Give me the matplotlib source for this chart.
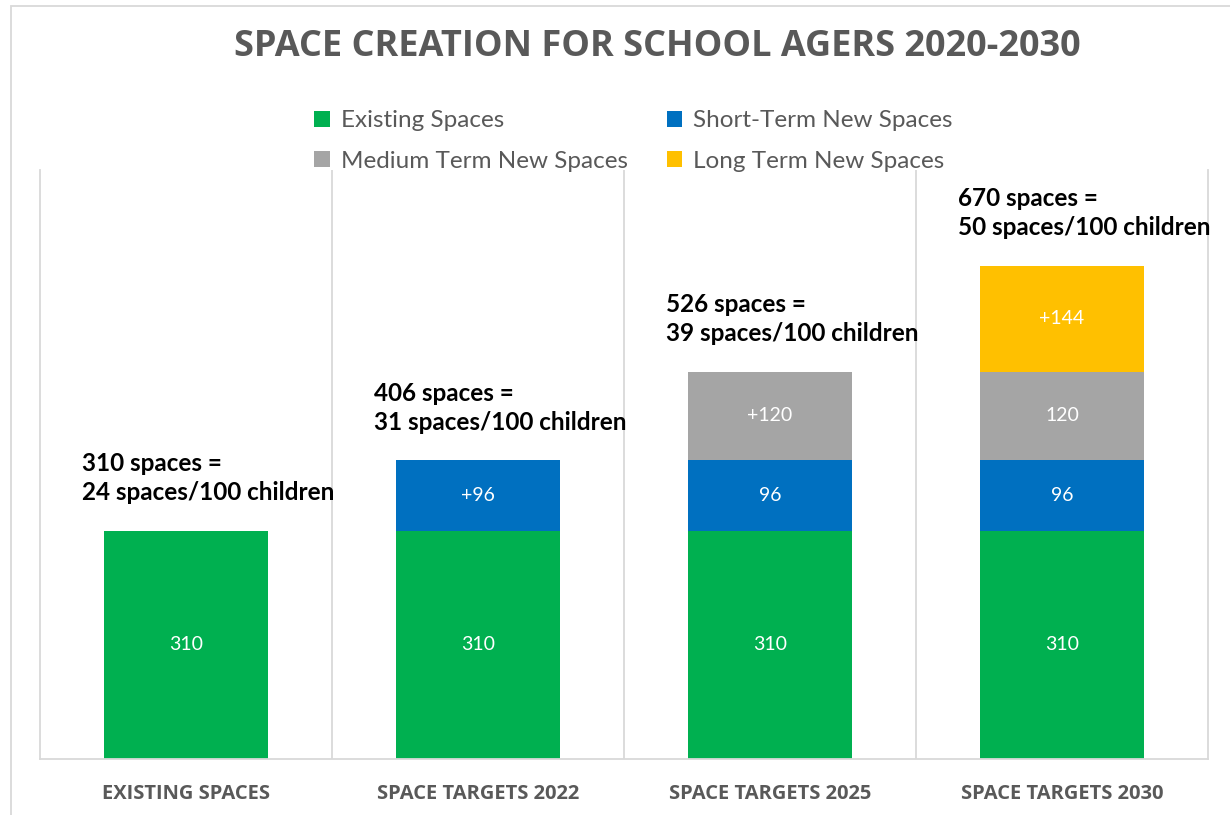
import matplotlib.pyplot as plt
from matplotlib.patches import Rectangle, Patch
import numpy as np

# Categories and stacked segment values
categories = ['EXISTING SPACES', 'SPACE TARGETS 2022', 'SPACE TARGETS 2025', 'SPACE TARGETS 2030']
existing = [310, 310, 310, 310]
short_term = [0, 96, 96, 96]
medium_term = [0, 0, 120, 120]
long_term = [0, 0, 0, 144]

short_labels = ['', '+96', '96', '96']
medium_labels = ['', '', '+120', '120']
long_labels = ['', '', '', '+144']
totals = [310, 406, 526, 670]
per_100 = [24, 31, 39, 50]

series_names = ['Existing Spaces', 'Short-Term New Spaces',
                'Medium Term New Spaces', 'Long Term New Spaces']
colors = ['#00B050', '#0070C0', '#A5A5A5', '#FFC000']
grid_col = '#D9D9D9'
text_col = '#595959'

plt.rcParams['font.family'] = ['Open Sans', 'DejaVu Sans']

fig = plt.figure(figsize=(12.3, 8.15), dpi=100)
ax = fig.add_axes([40 / 1230, 56 / 815, 1168 / 1230, 589 / 815])

x = np.arange(len(categories))
width = 0.56
segments = [existing, short_term, medium_term, long_term]
seg_labels = [[str(v) for v in existing], short_labels, medium_labels, long_labels]
bottom = np.zeros(len(categories))
for vals, labs, col in zip(segments, seg_labels, colors):
    vals = np.array(vals, dtype=float)
    bars = ax.bar(x, vals, width, bottom=bottom, color=col, zorder=2)
    for b, v, lab in zip(bars, vals, labs):
        if v > 0 and lab:
            ax.text(b.get_x() + b.get_width() / 2, b.get_y() + v / 2, lab,
                    ha='center', va='center', color='white', fontsize=14, zorder=3,
                    family=['Lato', 'DejaVu Sans'])
    bottom += vals

# Total annotations above each bar
for i, (t, p) in enumerate(zip(totals, per_100)):
    ax.annotate(f'{t} spaces =\n{p} spaces/100 children', xy=(i - 0.355, t),
                xytext=(0, 19), textcoords='offset points',
                ha='left', va='bottom', fontsize=17.5, fontweight='bold',
                color='black', linespacing=1.32, family=['Lato', 'DejaVu Sans'])

ax.set_xlim(-0.5, 3.5)
ax.set_ylim(0, 800)
for xv in [0.5, 1.5, 2.5]:
    ax.axvline(xv, color=grid_col, lw=1.3, zorder=1)
for side in ['left', 'right', 'bottom']:
    ax.spines[side].set_color(grid_col)
    ax.spines[side].set_linewidth(1.3)
ax.spines['top'].set_visible(False)
ax.set_yticks([])
ax.set_xticks(x)
ax.set_xticklabels(categories, fontsize=14.5, fontweight='bold', color=text_col)
ax.tick_params(axis='x', length=0, pad=18)

fig.text(0.534, 1 - 47 / 815, 'SPACE CREATION FOR SCHOOL AGERS 2020-2030',
         ha='center', va='center', fontsize=26, fontweight='bold', color=text_col)

# legend fills column-wise, so order entries to read row by row
order = [0, 2, 1, 3]
handles = [Patch(facecolor=colors[k], edgecolor='none') for k in order]
labels = [series_names[k] for k in order]
fig.legend(handles, labels, ncol=2, loc='center', frameon=False,
           bbox_to_anchor=(0.515, 1 - 141 / 815),
           labelcolor=text_col, handlelength=0.65, handleheight=0.65,
           handletextpad=0.45, columnspacing=1.6, labelspacing=0.8,
           prop={'family': ['Lato', 'DejaVu Sans'], 'size': 17.5})

# Outer chart frame
fig.patches.append(Rectangle((11 / 1230, -0.1), 1.2, 1.1 - 6 / 815,
                             transform=fig.transFigure, fill=False,
                             edgecolor=grid_col, lw=1.3))

fig.savefig('out.png', dpi=100)
